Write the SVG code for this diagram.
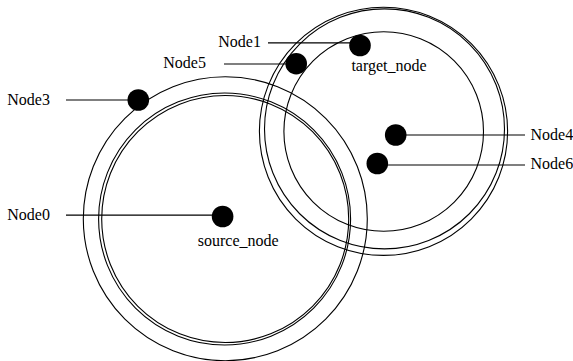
<svg xmlns="http://www.w3.org/2000/svg" width="573" height="361" viewBox="0 0 573 361">
<style>
.ring{fill:none;stroke:#000;stroke-width:1.1}
.dot{fill:#000}
.lead{stroke:#000;stroke-width:1.2;fill:none}
text{font-family:"Liberation Serif","Times New Roman",serif;font-size:16px;fill:#000}
</style>
<rect width="573" height="361" fill="#fff"/>
<g id="clusters">
<circle class="ring" cx="225.3" cy="218.7" r="142"/>
<circle class="ring" cx="224.6" cy="219" r="126"/>
<circle class="ring" cx="225.2" cy="219" r="123.5"/>
<circle class="ring" cx="383.5" cy="131.3" r="124.1"/>
<circle class="ring" cx="384.5" cy="128.9" r="120"/>
<circle class="ring" cx="383.7" cy="131.5" r="99.8"/>
</g>
<g id="connectors">
<line class="lead" x1="66" y1="100" x2="135" y2="100"/>
<line class="lead" x1="224" y1="64" x2="293" y2="64"/>
<line class="lead" x1="268" y1="42.8" x2="356" y2="42.8"/>
<line class="lead" x1="66" y1="215.2" x2="218" y2="215.2"/>
<line class="lead" x1="399" y1="135" x2="525" y2="135"/>
<line class="lead" x1="380" y1="165" x2="525" y2="165"/>
</g>
<g id="node3"><circle class="dot" cx="138.3" cy="100" r="10.8"/><text x="7.3" y="104.5">Node3</text></g>
<g id="node5"><circle class="dot" cx="296.2" cy="63.7" r="10.8"/><text x="163.3" y="68">Node5</text></g>
<g id="node1"><circle class="dot" cx="360" cy="45.5" r="10.8"/><text x="218.3" y="46.5">Node1</text></g>
<g id="target_node"><text x="389" y="71" text-anchor="middle">target_node</text></g>
<g id="node0"><circle class="dot" cx="222.6" cy="216.5" r="10.8"/><text x="7.3" y="219.5">Node0</text></g>
<g id="source_node"><text x="238.2" y="245.5" text-anchor="middle">source_node</text></g>
<g id="node4"><circle class="dot" cx="395.7" cy="135" r="10.8"/><text x="530.5" y="140">Node4</text></g>
<g id="node6"><circle class="dot" cx="377.3" cy="163.5" r="10.8"/><text x="530.5" y="169">Node6</text></g>
</svg>
